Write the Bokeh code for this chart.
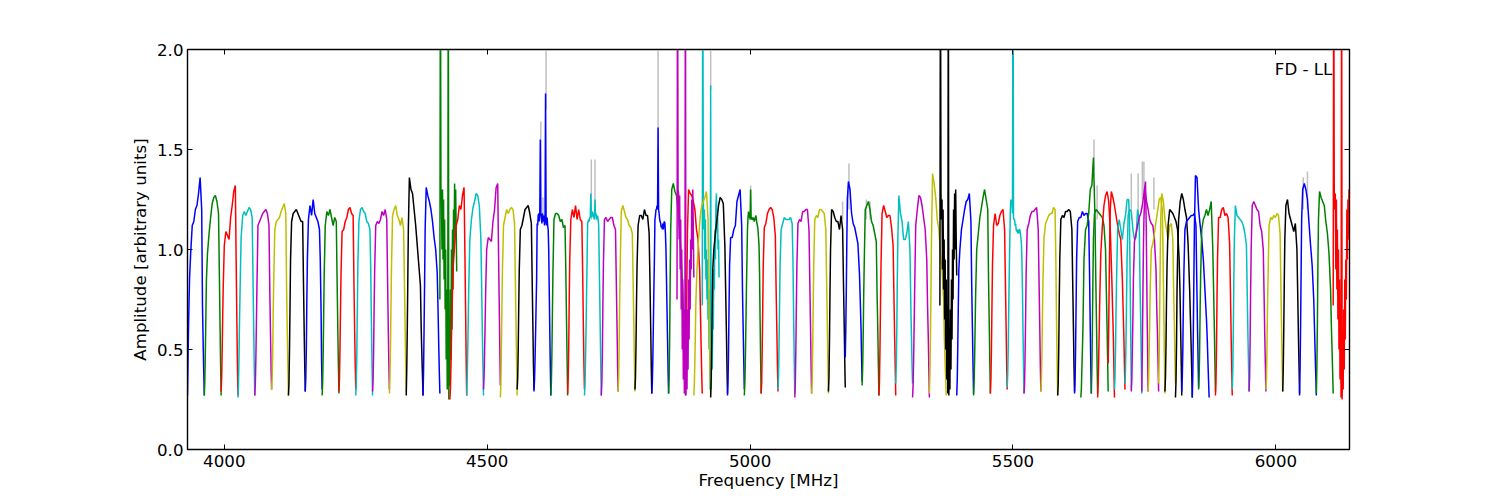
from bokeh.embed import file_html
from bokeh.models import ColumnDataSource, FixedTicker, Label, LinearAxis
from bokeh.plotting import figure
from bokeh.resources import INLINE

x_ticks = [4000, 4500, 5000, 5500, 6000]
y_ticks = [0.0, 0.5, 1.0, 1.5, 2.0]

# channel offsets inside one 32 MHz window, MHz
chan_coarse = [0, 1, 2, 3, 4, 6, 9, 12, 15, 18, 21, 24, 27, 28.5, 30, 31, 32]
chan_fine = list(range(33))

# amplitude per window, named by the start frequency of the window
amp_3930 = [.27, .45, .62, .75, .86, .98, 1.12, 1.14, 1.2, 1.22, 1.28, 1.36, 1.2, .72, .5, .38, .27]
amp_3962 = [.27, .35, .5, .68, .85, .98, 1.08, 1.16, 1.23, 1.26, 1.27, 1.24, 1.18, .9, .6, .42, .27]
amp_3994 = [.29, .36, .5, .68, .82, 1.02, 1.09, 1.07, 1.05, 1.16, 1.22, 1.29, 1.32, .95, .62, .42, .27]
amp_4026 = [.26, .33, .47, .65, .8, 1.06, 1.17, 1.19, 1.17, 1.19, 1.21, 1.2, 1.16, .88, .58, .41, .27]
amp_4058 = [.27, .33, .45, .62, .8, 1.12, 1.14, 1.16, 1.18, 1.19, 1.2, 1.18, 1.12, .8, .55, .4, .3]
amp_4090 = [.3, .35, .48, .68, .85, 1.1, 1.14, 1.15, 1.16, 1.19, 1.21, 1.23, 1.18, .8, .55, .4, .27]
amp_4122 = [.27, .33, .5, .72, .95, 1.14, 1.18, 1.19, 1.2, 1.18, 1.16, 1.14, 1.14, .85, .58, .42, .29]
amp_4154 = [.29, .36, .5, .75, .95, 1.15, 1.22, 1.17, 1.25, 1.18, 1.16, 1.14, 1.1, .95, .7, .45, .3]
amp_4186 = [.27, .33, .47, .68, .88, 1.12, 1.19, 1.17, 1.2, 1.16, 1.12, 1.16, 1.14, .85, .58, .42, .28]
amp_4218 = [.29, .35, .5, .7, .88, 1.09, 1.1, 1.14, 1.16, 1.2, 1.21, 1.18, 1.17, .85, .58, .42, .3]
amp_4250 = [.27, .33, .47, .7, .92, 1.14, 1.2, 1.21, 1.19, 1.18, 1.14, 1.13, 1.1, .9, .6, .42, .27]
amp_4282 = [.29, .35, .5, .72, .9, 1.12, 1.14, 1.13, 1.15, 1.19, 1.17, 1.2, 1.15, .85, .58, .42, .3]
amp_4314 = [.28, .35, .5, .72, .92, 1.17, 1.2, 1.22, 1.17, 1.15, 1.12, 1.16, 1.1, .85, .6, .42, .29]
amp_4346 = [.27, .4, .6, .85, 1.1, 1.36, 1.3, 1.28, 1.2, 1.12, 1.02, .92, .82, .6, .45, .36, .27]
amp_4378 = [.27, .4, .62, .85, 1.1, 1.31, 1.27, 1.24, 1.2, 1.14, 1.06, 1.0, .88, .7, .5, .38, .28]
amp_4410 = [.75, 2.6, 1.3, 1.28, 1.0, 1.3, .95, 1.25, .85, 1.15, .7, 1.0, .45, .8, .3, .6, 2.6,
            .25, .6, .32, .8, .45, 1.0, .6, 1.1, .8, 1.2, 1.0, 1.33, 1.1, 1.3, 1.1, .89]
amp_4429 = [.25, .3, .4, .55, .68, .9, 1.02, 1.12, 1.15, 1.22, 1.2, 1.27, 1.31, 1.0, .68, .45, .27]
amp_4461 = [.27, .36, .5, .66, .82, 1.05, 1.15, 1.21, 1.24, 1.28, 1.27, 1.22, 1.05, .8, .55, .4, .27]
amp_4493 = [.3, .36, .48, .62, .78, 1.0, 1.06, 1.05, 1.04, 1.14, 1.2, 1.31, 1.33, 1.0, .7, .5, .32]
amp_4525 = [.26, .33, .5, .72, .9, 1.12, 1.16, 1.2, 1.18, 1.2, 1.21, 1.2, 1.13, .85, .6, .42, .27]
amp_4557 = [.3, .36, .5, .72, .9, 1.1, 1.12, 1.16, 1.2, 1.21, 1.22, 1.18, 1.13, .85, .6, .42, .3]
amp_4589 = [.29, .35, .45, .58, .72, .85, 1.13, 1.12, 1.17, 1.18, 1.14, 1.17, 1.55, 1.18, 1.17, 1.13, 1.18,
            1.15, 1.14, 1.17, 1.12, 1.15, 1.78, 1.14, 1.12, 1.16, 1.12, 1.1, 1.0, .8, .6, .42, .27]
amp_4621 = [.27, .33, .47, .68, .88, 1.15, 1.18, 1.18, 1.17, 1.14, 1.15, 1.11, 1.12, .9, .62, .44, .27]
amp_4653 = [.28, .35, .5, .75, .95, 1.15, 1.2, 1.16, 1.22, 1.15, 1.2, 1.15, 1.14, .9, .6, .42, .3]
amp_4685 = [.27, .33, .45, .6, .78, .95, 1.13, 1.14, 1.15, 1.14, 1.16, 1.16, 1.28, 1.18, 1.16, 1.19, 1.18,
            1.17, 1.16, 1.15, 1.25, 1.17, 1.18, 1.16, 1.15, 1.17, 1.15, 1.12, .95, .78, .6, .42, .27]
amp_4717 = [.27, .33, .47, .72, .92, 1.15, 1.16, 1.14, 1.15, 1.16, 1.16, 1.12, 1.1, .85, .6, .42, .29]
amp_4749 = [.29, .36, .52, .76, .92, 1.19, 1.22, 1.19, 1.16, 1.15, 1.12, 1.11, 1.08, .85, .6, .42, .29]
amp_4781 = [.3, .36, .52, .74, .92, 1.12, 1.17, 1.17, 1.15, 1.2, 1.17, 1.17, 1.08, .85, .6, .42, .28]
amp_4813 = [.28, .33, .45, .62, .8, .95, 1.15, 1.17, 1.2, 1.2, 1.22, 1.2, 1.61, 1.2, 1.18, 1.15, 1.14,
            1.13, 1.11, 1.12, 1.1, 1.13, 1.1, 1.13, 1.14, 1.13, 1.08, 1.0, .85, .7, .55, .4, .28]
amp_4845 = [.28, .35, .55, .85, 1.1, 1.3, 1.33, 1.29, 1.27, 1.2, 1.1, .95, .78, .65, .5, .38, .27]
amp_4861 = [.75, 2.6, 1.3, 1.28, 1.05, 1.27, .9, 1.15, .7, 1.0, .5, .85, .35, .7, .28, .55, 2.6,
            .27, .55, .3, .7, .4, .85, .55, .95, .7, 1.05, .9, 1.25, 1.0, 1.3, 1.1, .86]
amp_4877 = [.3, .4, .6, .9, 1.1, 1.3, 1.28, 1.27, 1.24, 1.2, 1.1, 1.05, .9, .7, .5, .38, .28]
amp_4893 = [.27, .33, .45, .6, .75, .9, 1.05, 1.16, 1.22, 1.24, 1.26, 1.29, 1.15, .8, .55, .4, .27]
amp_4909 = [.72, 2.6, 1.25, 1.1, 1.2, .95, 1.15, .85, 1.0, .75, .95, .65, .8, .5, .6, .3, 1.82,
            .3, .5, .4, .7, .6, .9, .8, 1.1, .95, 1.22, 1.28, 1.1, 1.2, 1.0, 1.05, .86]
amp_4925 = [.26, .36, .52, .72, .9, 1.0, 1.08, 1.15, 1.22, 1.26, 1.25, 1.23, 1.02, .8, .58, .42, .28]
amp_4957 = [.27, .33, .5, .72, .92, 1.06, 1.06, 1.1, 1.12, 1.24, 1.27, 1.3, 1.12, .8, .58, .44, .3]
amp_4989 = [.27, .33, .45, .62, .8, .95, 1.1, 1.16, 1.19, 1.16, 1.17, 1.15, 1.3, 1.15, 1.16, 1.15, 1.15,
            1.16, 1.15, 1.14, 1.15, 1.16, 1.17, 1.15, 1.13, 1.12, 1.1, 1.06, 1.02, .88, .65, .45, .28]
amp_5021 = [.28, .33, .5, .7, .92, 1.11, 1.13, 1.18, 1.2, 1.21, 1.2, 1.16, 1.07, .8, .58, .42, .29]
amp_5053 = [.3, .36, .5, .72, .92, 1.1, 1.13, 1.16, 1.15, 1.15, 1.15, 1.16, 1.13, .95, .62, .44, .28]
amp_5085 = [.26, .33, .5, .72, .92, 1.13, 1.15, 1.14, 1.19, 1.19, 1.2, 1.2, 1.1, .85, .6, .42, .28]
amp_5117 = [.28, .33, .5, .72, .92, 1.15, 1.17, 1.16, 1.2, 1.2, 1.19, 1.18, 1.1, .85, .6, .42, .28]
amp_5149 = [.29, .36, .55, .8, 1.0, 1.2, 1.19, 1.16, 1.14, 1.14, 1.1, 1.17, 1.1, .85, .62, .45, .31]
amp_5181 = [.46, .6, .8, 1.05, 1.25, 1.34, 1.3, 1.18, 1.13, 1.11, 1.07, 1.03, .88, .75, .6, .47, .34]
amp_5213 = [.32, .4, .55, .76, .92, 1.2, 1.22, 1.24, 1.2, 1.14, 1.12, 1.08, 1.04, .78, .58, .42, .27]
amp_5245 = [.27, .33, .5, .72, .92, 1.18, 1.22, 1.19, 1.16, 1.17, 1.17, 1.11, 1.02, .78, .55, .42, .27]
amp_5277 = [.33, .42, .6, .85, 1.05, 1.27, 1.18, 1.14, 1.05, 1.05, 1.08, 1.14, 1.0, .75, .55, .42, .33]
amp_5309 = [.26, .32, .45, .62, .8, 1.12, 1.2, 1.27, 1.26, 1.22, 1.16, 1.1, .95, .72, .55, .4, .26]
amp_5341 = [.28, .38, .55, .8, 1.05, 1.38, 1.33, 1.26, 1.15, 1.1, .98, .9, .75, .55, .42, .35, .27]
amp_5361 = [.72, 2.6, 1.28, 1.15, 1.25, .9, 1.2, .8, 1.05, .65, .95, .5, .85, .35, .65, .28, 2.6,
            .27, .55, .3, .7, .4, .85, .55, 1.0, .75, 1.2, .95, 1.28, 1.0, 1.3, 1.05, .87]
amp_5393 = [.27, .35, .52, .72, .9, 1.0, 1.1, 1.15, 1.2, 1.24, 1.25, 1.28, 1.14, .82, .58, .42, .28]
amp_5425 = [.27, .33, .45, .62, .78, 1.0, 1.08, 1.16, 1.21, 1.26, 1.3, 1.25, 1.2, .85, .6, .42, .28]
amp_5457 = [.28, .35, .5, .72, .92, 1.12, 1.18, 1.12, 1.13, 1.17, 1.19, 1.2, 1.1, .85, .6, .42, .3]
amp_5489 = [.31, .38, .52, .72, .9, 1.05, 1.2, 1.25, 1.22, 1.24, 1.18, 2.6, 1.16, 1.15, 1.15, 1.12, 1.13,
            1.1, 1.09, 1.1, 1.08, 1.1, 1.08, 1.1, 1.1, 1.08, 1.06, 1.03, .95, .8, .6, .43, .28]
amp_5521 = [.28, .33, .47, .66, .88, 1.1, 1.13, 1.17, 1.19, 1.19, 1.2, 1.21, 1.1, .85, .6, .42, .29]
amp_5553 = [.29, .35, .47, .66, .85, 1.06, 1.13, 1.15, 1.17, 1.18, 1.18, 1.21, 1.2, .95, .6, .42, .27]
amp_5585 = [.27, .33, .5, .75, .95, 1.15, 1.17, 1.16, 1.19, 1.19, 1.2, 1.19, 1.1, .85, .6, .42, .29]
amp_5617 = [.28, .33, .5, .72, .95, 1.14, 1.16, 1.16, 1.19, 1.17, 1.18, 1.18, 1.14, .9, .6, .42, .28]
amp_5629 = [.26, .3, .4, .5, .6, .95, 1.1, 1.12, 1.18, 1.3, 1.32, 1.46, 1.15, .85, .6, .42, .28]
amp_5649 = [.28, .4, .6, .85, 1.05, 1.18, 1.2, 1.19, 1.18, 1.17, 1.16, 1.12, 1.0, .8, .6, .45, .29]
amp_5661 = [.26, .33, .45, .6, .75, .98, 1.12, 1.22, 1.27, 1.29, 1.24, 1.1, .85, .7, .55, .4, .26]
amp_5681 = [.43, .6, .85, 1.05, 1.2, 1.29, 1.26, 1.22, 1.17, 1.12, 1.08, 1.05, .85, .7, .55, .42, .3]
amp_5693 = [.3, .36, .5, .7, .85, 1.1, 1.15, 1.1, 1.05, 1.13, 1.17, 1.25, 1.25, 1.15, .8, .55, .3]
amp_5713 = [.33, .4, .55, .75, .95, 1.17, 1.2, 1.19, 1.1, 1.05, 1.06, 1.2, 1.15, .85, .62, .45, .28]
amp_5725 = [.29, .35, .5, .65, .85, 1.04, 1.08, 1.12, 1.16, 1.18, 1.22, 1.28, 1.34, 1.1, .7, .5, .29]
amp_5745 = [.29, .5, .75, 1.0, 1.15, 1.3, 1.24, 1.2, 1.15, 1.13, 1.12, 1.05, .9, .7, .55, .42, .29]
amp_5757 = [.29, .35, .5, .65, .8, 1.0, 1.03, 1.08, 1.14, 1.19, 1.25, 1.26, 1.2, .95, .65, .45, .28]
amp_5777 = [.33, .45, .7, .95, 1.15, 1.28, 1.24, 1.15, 1.1, 1.05, 1.12, 1.13, 1.05, .8, .62, .45, .33]
amp_5789 = [.29, .36, .52, .75, .92, 1.12, 1.2, 1.19, 1.18, 1.16, 1.14, 1.1, .95, .8, .58, .43, .27]
amp_5809 = [.26, .34, .52, .8, .95, 1.15, 1.24, 1.28, 1.25, 1.2, 1.16, 1.03, .8, .65, .5, .38, .26]
amp_5821 = [.29, .36, .5, .72, .88, 1.1, 1.14, 1.15, 1.16, 1.17, 1.17, 1.18, 1.12, .85, .6, .45, .31]
amp_5841 = [.26, .38, .6, .85, 1.1, 1.37, 1.36, 1.2, 1.12, 1.05, .95, .8, .65, .55, .42, .34, .26]
amp_5853 = [.3, .36, .5, .72, .88, 1.1, 1.15, 1.17, 1.2, 1.17, 1.2, 1.24, 1.0, .8, .6, .44, .29]
amp_5885 = [.27, .33, .5, .75, .95, 1.16, 1.16, 1.2, 1.21, 1.17, 1.18, 1.16, 1.03, .8, .55, .42, .27]
amp_5917 = [.3, .4, .58, .85, 1.05, 1.22, 1.17, 1.16, 1.15, 1.14, 1.12, 1.08, 1.02, .78, .55, .42, .29]
amp_5949 = [.29, .36, .55, .8, 1.0, 1.22, 1.24, 1.22, 1.2, 1.19, 1.12, 1.09, 1.0, .78, .55, .42, .29]
amp_5981 = [.3, .35, .5, .7, .85, 1.12, 1.16, 1.15, 1.17, 1.16, 1.18, 1.17, 1.08, .82, .58, .42, .29]
amp_6013 = [.29, .4, .6, .85, 1.05, 1.22, 1.25, 1.18, 1.15, 1.12, 1.09, 1.13, 1.0, .78, .55, .42, .28]
amp_6045 = [.27, .4, .62, .9, 1.15, 1.3, 1.33, 1.3, 1.25, 1.13, 1.02, .92, .75, .6, .45, .36, .27]
amp_6077 = [.28, .42, .65, .95, 1.15, 1.29, 1.26, 1.24, 1.22, 1.14, 1.08, .98, .8, .62, .48, .38, .28]
amp_6109 = [.72, 2.6, 1.28, 1.2, 1.28, .9, 1.25, .8, 1.1, .65, 1.0, .5, .85, .35, .6, .26, 2.6,
            .25, .55, .3, .7, .4, .85, .55, .95, .75, 1.2, .95, 1.25, 1.05, 1.3, 1.1, 1.3]

# windows in plotting order: start frequency, colour letter, amplitudes
bands = [
    (3930, "b", amp_3930), (3962, "g", amp_3962), (3994, "r", amp_3994), (4026, "c", amp_4026),
    (4058, "m", amp_4058), (4090, "y", amp_4090), (4122, "k", amp_4122), (4154, "b", amp_4154),
    (4186, "g", amp_4186), (4218, "r", amp_4218), (4250, "c", amp_4250), (4282, "m", amp_4282),
    (4314, "y", amp_4314), (4346, "k", amp_4346), (4378, "b", amp_4378), (4410, "g", amp_4410),
    (4429, "r", amp_4429), (4461, "c", amp_4461), (4493, "m", amp_4493), (4525, "y", amp_4525),
    (4557, "k", amp_4557), (4589, "b", amp_4589), (4621, "g", amp_4621), (4653, "r", amp_4653),
    (4685, "c", amp_4685), (4717, "m", amp_4717), (4749, "y", amp_4749), (4781, "k", amp_4781),
    (4813, "b", amp_4813), (4845, "g", amp_4845), (4877, "r", amp_4877), (4909, "c", amp_4909),
    (4861, "m", amp_4861), (4893, "y", amp_4893), (4925, "k", amp_4925), (4957, "b", amp_4957),
    (4989, "g", amp_4989), (5021, "r", amp_5021), (5053, "c", amp_5053), (5085, "m", amp_5085),
    (5117, "y", amp_5117), (5149, "k", amp_5149), (5181, "b", amp_5181), (5213, "g", amp_5213),
    (5245, "r", amp_5245), (5277, "c", amp_5277), (5309, "m", amp_5309), (5341, "y", amp_5341),
    (5361, "k", amp_5361), (5393, "b", amp_5393), (5425, "g", amp_5425), (5457, "r", amp_5457),
    (5489, "c", amp_5489), (5521, "m", amp_5521), (5553, "y", amp_5553), (5585, "k", amp_5585),
    (5617, "b", amp_5617), (5649, "g", amp_5649), (5681, "r", amp_5681), (5713, "c", amp_5713),
    (5745, "m", amp_5745), (5777, "y", amp_5777), (5809, "k", amp_5809), (5841, "b", amp_5841),
    (5629, "g", amp_5629), (5661, "r", amp_5661), (5693, "c", amp_5693), (5725, "m", amp_5725),
    (5757, "y", amp_5757), (5789, "k", amp_5789), (5821, "b", amp_5821), (5853, "g", amp_5853),
    (5885, "r", amp_5885), (5917, "c", amp_5917), (5949, "m", amp_5949), (5981, "y", amp_5981),
    (6013, "k", amp_6013), (6045, "b", amp_6045), (6077, "g", amp_6077), (6109, "r", amp_6109),
]
colors = {"b": "#0000ff", "g": "#008000", "r": "#ff0000", "c": "#00bfbf",
          "m": "#bf00bf", "y": "#bfbf00", "k": "#000000"}

# unflagged data showing above the flagged lines, in grey
spike_freq = [4602, 4606, 4612, 4698, 4705, 4825, 4925, 5001, 5176, 5188, 5221, 5228,
              5654, 5660, 5725, 5738, 5746, 5749, 5768, 6052, 6060]
spike_base = [1.2, 1.15, 1.7, 1.15, 1.15, 1.55, 1.8, 1.15, 1.15, 1.2, 1.15, 1.15,
              1.4, 1.15, 1.15, 1.15, 1.25, 1.25, 1.2, 1.2, 1.2]
spike_top = [1.64, 1.26, 2.6, 1.45, 1.45, 2.6, 2.6, 1.32, 1.24, 1.43, 1.25, 1.24,
             1.55, 1.32, 1.38, 1.38, 1.44, 1.44, 1.36, 1.36, 1.39]

p = figure(width=1492, height=494, x_range=(3930, 6140), y_range=(0, 2),
           output_backend="svg", toolbar_location=None,
           min_border_left=187, min_border_right=143, min_border_top=49, min_border_bottom=45)
p.background_fill_color = "white"
p.grid.visible = False
p.outline_line_color = "black"
p.outline_line_width = 1.4

p.segment(x0=spike_freq, y0=spike_base, x1=spike_freq, y1=spike_top, color="#bfbfbf", line_width=1.5)

for start, letter, amps in bands:
    chans = chan_fine if len(amps) == 33 else chan_coarse
    src = ColumnDataSource(data=dict(freq=[start + c for c in chans], amp=amps))
    p.line("freq", "amp", source=src, line_color=colors[letter], line_width=1.5)

font = "DejaVu Sans"
for ax, ticks in ((p.xaxis[0], x_ticks), (p.yaxis[0], y_ticks)):
    ax.ticker = FixedTicker(ticks=ticks)
    ax.major_tick_in = 5
    ax.major_tick_out = 0
    ax.minor_tick_in = 0
    ax.minor_tick_out = 0
    ax.axis_line_color = "black"
    ax.major_tick_line_color = "black"
    ax.major_label_text_font = font
    ax.major_label_text_font_size = "16.67px"
    ax.major_label_text_color = "black"
    ax.axis_label_text_font = font
    ax.axis_label_text_font_size = "16.67px"
    ax.axis_label_text_font_style = "normal"
    ax.axis_label_text_color = "black"

p.xaxis[0].axis_label = "Frequency [MHz]"
p.yaxis[0].axis_label = "Amplitude [arbitrary units]"
p.xaxis[0].major_label_standoff = 5
p.yaxis[0].major_label_standoff = 4
p.xaxis[0].axis_label_standoff = 1
p.yaxis[0].axis_label_standoff = 4
p.yaxis[0].major_label_overrides = {v: f"{v:.1f}" for v in y_ticks}

# ticks on the top and right edges as well
top = LinearAxis(ticker=FixedTicker(ticks=x_ticks), major_tick_in=5, major_tick_out=0,
                 minor_tick_in=0, minor_tick_out=0, major_label_overrides={v: "" for v in x_ticks})
right = LinearAxis(ticker=FixedTicker(ticks=y_ticks), major_tick_in=5, major_tick_out=0,
                   minor_tick_in=0, minor_tick_out=0, major_label_overrides={v: "" for v in y_ticks})
p.add_layout(top, "above")
p.add_layout(right, "right")

p.add_layout(Label(x=5998, y=1.9, text="FD - LL", text_font=font, text_font_size="16.67px",
                   text_color="black", text_baseline="middle"))

open("out.html", "w").write(file_html(p, INLINE))
